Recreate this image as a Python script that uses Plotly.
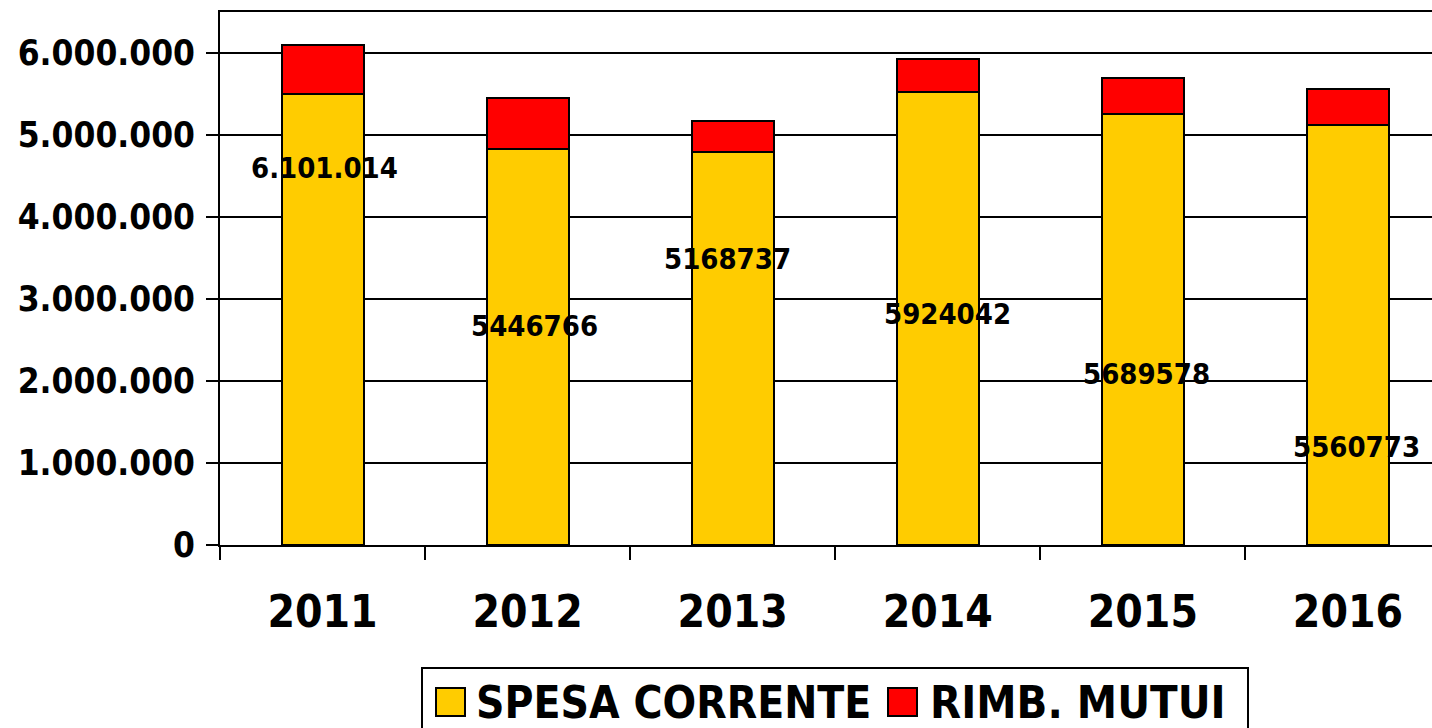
import plotly.graph_objects as go

# ---- data ----
years = ["2011", "2012", "2013", "2014", "2015", "2016"]
spesa_corrente = [5500000, 4830000, 4790000, 5520000, 5256000, 5120000]
rimb_mutui = [601000, 617000, 379000, 404000, 434000, 441000]
label_texts = ["6.101.014", "5446766", "5168737", "5924042", "5689578", "5560773"]
y_ticks = [0, 1000000, 2000000, 3000000, 4000000, 5000000, 6000000]

# ---- label placement (not data) ----
label_y = [4600000, 2670000, 3490000, 2820000, 2085000, 1195000]
label_xshift = [2, 7, -5, 10, 4, 9]

YELLOW = "#FFCC00"
RED = "#FF0000"
FONT = "DejaVu Sans Condensed"

W, H = 1432, 728
ML, MR, MT, MB = 220, 0, 12, 183
PW, PH = W - ML - MR, H - MT - MB


def px_x(px):
    return (px - ML) / PW


def px_y(py):
    return (H - MB - py) / PH


fig = go.Figure()
fig.add_trace(go.Bar(
    x=years, y=spesa_corrente, name="SPESA CORRENTE",
    marker=dict(color=YELLOW, line=dict(color="black", width=2)),
    width=0.4, showlegend=False, hoverinfo="x+y",
))
fig.add_trace(go.Bar(
    x=years, y=rimb_mutui, name="RIMB. MUTUI",
    marker=dict(color=RED, line=dict(color="black", width=2)),
    width=0.4, showlegend=False, hoverinfo="x+y",
))

annotations = []
for i, (txt, ly, dx) in enumerate(zip(label_texts, label_y, label_xshift)):
    annotations.append(dict(
        x=i, y=ly, xref="x", yref="y", text=txt, showarrow=False, xshift=dx,
        xanchor="center", yanchor="middle",
        font=dict(family=FONT, size=29, color="black", weight="bold"),
    ))

# ---- custom legend (box, swatches, labels) ----
shapes = [
    dict(type="rect", xref="paper", yref="paper",
         x0=px_x(422), x1=px_x(1248), y0=px_y(740), y1=px_y(668),
         line=dict(color="black", width=2), fillcolor="white", layer="above"),
    dict(type="rect", xref="paper", yref="paper",
         x0=px_x(436), x1=px_x(465), y0=px_y(716), y1=px_y(688),
         line=dict(color="black", width=2), fillcolor=YELLOW, layer="above"),
    dict(type="rect", xref="paper", yref="paper",
         x0=px_x(888), x1=px_x(917), y0=px_y(716), y1=px_y(688),
         line=dict(color="black", width=2), fillcolor=RED, layer="above"),
]
legend_font = dict(family=FONT, size=44, color="black", weight="bold")
annotations.append(dict(xref="paper", yref="paper", x=px_x(474), y=px_y(702),
                        text="SPESA CORRENTE", showarrow=False,
                        xanchor="left", yanchor="middle", font=legend_font))
annotations.append(dict(xref="paper", yref="paper", x=px_x(928), y=px_y(702),
                        text="RIMB. MUTUI", showarrow=False,
                        xanchor="left", yanchor="middle",
                        font=dict(family=FONT, size=45, color="black", weight="bold")))

fig.update_layout(
    width=W, height=H,
    margin=dict(l=ML, r=MR, t=MT, b=MB, pad=0),
    barmode="stack",
    plot_bgcolor="white", paper_bgcolor="white",
    separators=",.",
    showlegend=False,
    annotations=annotations,
    shapes=shapes,
    xaxis=dict(
        type="category", range=[-0.5, 5.41],
        showline=True, linecolor="black", linewidth=2, mirror=True,
        ticks="outside", tickson="boundaries", ticklen=13, tickwidth=2,
        tickcolor="black", showgrid=False,
        ticklabelstandoff=27,
        tickfont=dict(family=FONT, size=44, color="black", weight="bold"),
    ),
    yaxis=dict(
        range=[0, 6500000], tickvals=y_ticks, tickformat=",.0f",
        showline=True, linecolor="black", linewidth=2, mirror=False,
        ticks="outside", ticklen=12, tickwidth=2, tickcolor="black",
        showgrid=True, gridcolor="black", gridwidth=2,
        zeroline=False, ticklabelstandoff=4,
        tickfont=dict(family=FONT, size=35, color="black", weight="bold"),
    ),
)

fig.write_html(
    "out.html",
    config={"displayModeBar": False},
    post_script="document.body.style.margin='0';document.body.style.overflow='hidden';",
)
